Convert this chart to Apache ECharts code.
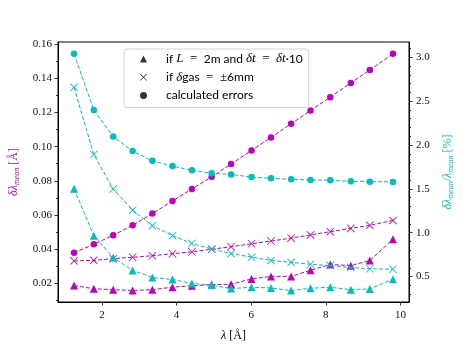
<!DOCTYPE html>
<html>
<head>
<meta charset="utf-8">
<script src="https://cdn.jsdelivr.net/npm/echarts@6/dist/echarts.min.js"></script>
<style>
  html, body { margin: 0; padding: 0; background: #fff; }
  #chart { width: 463px; height: 347px; }
</style>
</head>
<body>
<div id="chart"></div>
<script>
// wavelengths [A]
var lambda = [1.25, 1.78, 2.30, 2.82, 3.35, 3.89, 4.41, 4.94, 5.46, 6.01, 6.53, 7.07, 7.59, 8.12, 8.67, 9.18, 9.80];

// absolute errors [A] (left axis)
var absCalc = [0.0378, 0.0428, 0.0481, 0.0539, 0.0608, 0.0682, 0.0752, 0.0823, 0.0898, 0.0978, 0.1054, 0.1134, 0.1212, 0.1290, 0.1373, 0.1449, 0.1544];
var absGas = [0.0331, 0.0334, 0.0344, 0.0352, 0.0361, 0.0373, 0.0384, 0.0399, 0.0414, 0.0431, 0.0447, 0.0464, 0.0483, 0.0502, 0.0521, 0.0539, 0.0568];
var absL = [0.0186, 0.0168, 0.0162, 0.0158, 0.0162, 0.0177, 0.0185, 0.0192, 0.0194, 0.0225, 0.0240, 0.0240, 0.0276, 0.0310, 0.0303, 0.0333, 0.0458];

// relative errors [%] (right axis)
var relCalc = [3.039, 2.399, 2.096, 1.930, 1.819, 1.759, 1.712, 1.678, 1.664, 1.634, 1.620, 1.609, 1.601, 1.598, 1.586, 1.582, 1.579];
var relGas = [2.657, 1.892, 1.498, 1.257, 1.080, 0.966, 0.877, 0.814, 0.762, 0.722, 0.684, 0.662, 0.640, 0.625, 0.603, 0.589, 0.584];
var relL = [1.501, 0.966, 0.717, 0.570, 0.489, 0.467, 0.422, 0.400, 0.363, 0.378, 0.370, 0.340, 0.367, 0.378, 0.351, 0.359, 0.470];

// ticks
var xTicks = [2, 4, 6, 8, 10];
var leftTicks = [0.02, 0.04, 0.06, 0.08, 0.10, 0.12, 0.14, 0.16];
var leftMinor = [0.01, 0.03, 0.05, 0.07, 0.09, 0.11, 0.13, 0.15];
var rightTicks = [0.5, 1.0, 1.5, 2.0, 2.5, 3.0];
var rightMinor = [0.3, 0.4, 0.6, 0.7, 0.8, 0.9, 1.1, 1.2, 1.3, 1.4, 1.6, 1.7, 1.8, 1.9, 2.1, 2.2, 2.3, 2.4, 2.6, 2.7, 2.8, 2.9, 3.1];

var MAG = '#bf00bf';
var CYAN = '#00bfbf';
var SERIF = 'Liberation Serif';
var SANS = 'Lato';
var CROSS = 'path://M0,0.7L0.7,0L5,4.3L9.3,0L10,0.7L5.7,5L10,9.3L9.3,10L5,5.7L0.7,10L0,9.3L4.3,5Z';

// legend labels (math bits in serif italic, wider spacing around relations)
var legendText = {
    L: '{r|if }{i|L}{m|\u2002=\u2002}{r|2m and }{i|δt}{m|\u2002=\u2002}{i|δt}{r|·10}',
    gas: '{r|if }{i|δ}{r|gas}{m|\u2002=\u2002±}{r|6mm}',
    calc: '{r|calculated errors}'
};

function pairs(ys) {
    return lambda.map(function (x, i) { return [x, ys[i]]; });
}

function line(name, ys, axis, color, symbol, size) {
    return {
        type: 'line',
        name: name,
        yAxisIndex: axis,
        data: pairs(ys),
        symbol: symbol,
        symbolSize: size,
        showSymbol: true,
        z: axis === 1 ? 3 : 2,
        itemStyle: { color: color },
        lineStyle: { color: color, width: 1, type: [4, 2] },
        animation: false
    };
}

function legendDummy(name, symbol) {
    return { type: 'scatter', name: name, data: [], symbol: symbol, itemStyle: { color: '#000' } };
}

function axisName(color) {
    return {
        color: color,
        fontFamily: SERIF,
        rich: {
            i: { fontFamily: SERIF, fontStyle: 'italic', fontSize: 12, color: color, lineHeight: 14 },
            s: { fontFamily: SERIF, fontStyle: 'italic', fontSize: 8, color: color, lineHeight: 9, verticalAlign: 'bottom' },
            r: { fontFamily: SERIF, fontSize: 12, color: color, lineHeight: 14 }
        }
    };
}

function yAxis(pos, min, max, ticks, minor, color, name, gap, digits, isMinor) {
    return {
        type: 'value',
        position: pos,
        min: min,
        max: max,
        name: isMinor ? '' : name,
        nameLocation: 'middle',
        nameGap: gap,
        nameRotate: 90,
        nameTextStyle: axisName(color),
        splitLine: { show: false },
        axisLine: { show: !isMinor, lineStyle: { color: '#000', width: 1 } },
        axisTick: {
            show: true,
            inside: false,
            length: isMinor ? 2 : 3.5,
            customValues: isMinor ? minor : ticks,
            lineStyle: { color: '#000', width: 0.8 }
        },
        axisLabel: {
            show: !isMinor,
            customValues: ticks,
            margin: pos === 'left' ? 6 : 7,
            fontFamily: SERIF,
            fontSize: 11,
            color: '#111',
            formatter: function (v) { return v.toFixed(digits); }
        }
    };
}

var chart = echarts.init(document.getElementById('chart'));

chart.setOption({
    backgroundColor: '#fff',
    animation: false,
    grid: { left: 57, right: 47, top: 42, bottom: 40, show: true, borderColor: '#000', borderWidth: 1 },
    xAxis: {
        type: 'value',
        min: 0.82,
        max: 10.23,
        name: '{i|λ}{r| [Å]}',
        nameLocation: 'middle',
        nameGap: 27,
        nameTextStyle: axisName('#000'),
        splitLine: { show: false },
        axisLine: { lineStyle: { color: '#000', width: 1 } },
        axisTick: { inside: false, length: 3.5, customValues: xTicks, lineStyle: { color: '#000', width: 0.8 } },
        axisLabel: {
            customValues: xTicks,
            margin: 8,
            fontFamily: SERIF,
            fontSize: 11,
            color: '#111'
        }
    },
    yAxis: [
        yAxis('left', 0.009, 0.1613, leftTicks, leftMinor, MAG, '{i|δλ}{s|mean}{r| [Å]}', 37, 2, false),
        yAxis('right', 0.21, 3.174, rightTicks, rightMinor, CYAN, '{i|δλ}{s|mean}{r|/}{i|λ}{s|mean}{r| [%]}', 32, 1, false),
        yAxis('left', 0.009, 0.1613, leftTicks, leftMinor, MAG, '', 37, 2, true),
        yAxis('right', 0.21, 3.174, rightTicks, rightMinor, CYAN, '', 32, 1, true)
    ],
    legend: {
        orient: 'vertical',
        left: 124,
        top: 49,
        data: [
            { name: 'L', icon: 'triangle' },
            { name: 'gas', icon: CROSS },
            { name: 'calc', icon: 'circle' }
        ],
        itemWidth: 7,
        itemHeight: 7,
        itemGap: 4.3,
        padding: [3, 6, 5, 16],
        selectedMode: false,
        backgroundColor: 'rgba(255,255,255,0.85)',
        borderColor: '#d3d3d3',
        borderWidth: 1,
        borderRadius: 3,
        formatter: function (name) { return legendText[name]; },
        textStyle: {
            padding: [0, 0, 0, 14],
            lineHeight: 14,
            rich: {
                r: { fontFamily: SANS, fontSize: 12, color: '#000', lineHeight: 14 },
                m: { fontFamily: SERIF, fontSize: 13, color: '#000', lineHeight: 14 },
                i: { fontFamily: SERIF, fontStyle: 'italic', fontSize: 13, color: '#000', lineHeight: 14 }
            }
        }
    },
    series: [
        line('absL', absL, 0, MAG, 'triangle', 8),
        line('absGas', absGas, 0, MAG, CROSS, 8),
        line('absCalc', absCalc, 0, MAG, 'circle', 6.5),
        line('relL', relL, 1, CYAN, 'triangle', 8),
        line('relGas', relGas, 1, CYAN, CROSS, 8),
        line('relCalc', relCalc, 1, CYAN, 'circle', 6.5),
        legendDummy('L', 'triangle'),
        legendDummy('gas', CROSS),
        legendDummy('calc', 'circle')
    ]
});

window.addEventListener('resize', function () {
    chart.resize();
});
</script>
</body>
</html>
